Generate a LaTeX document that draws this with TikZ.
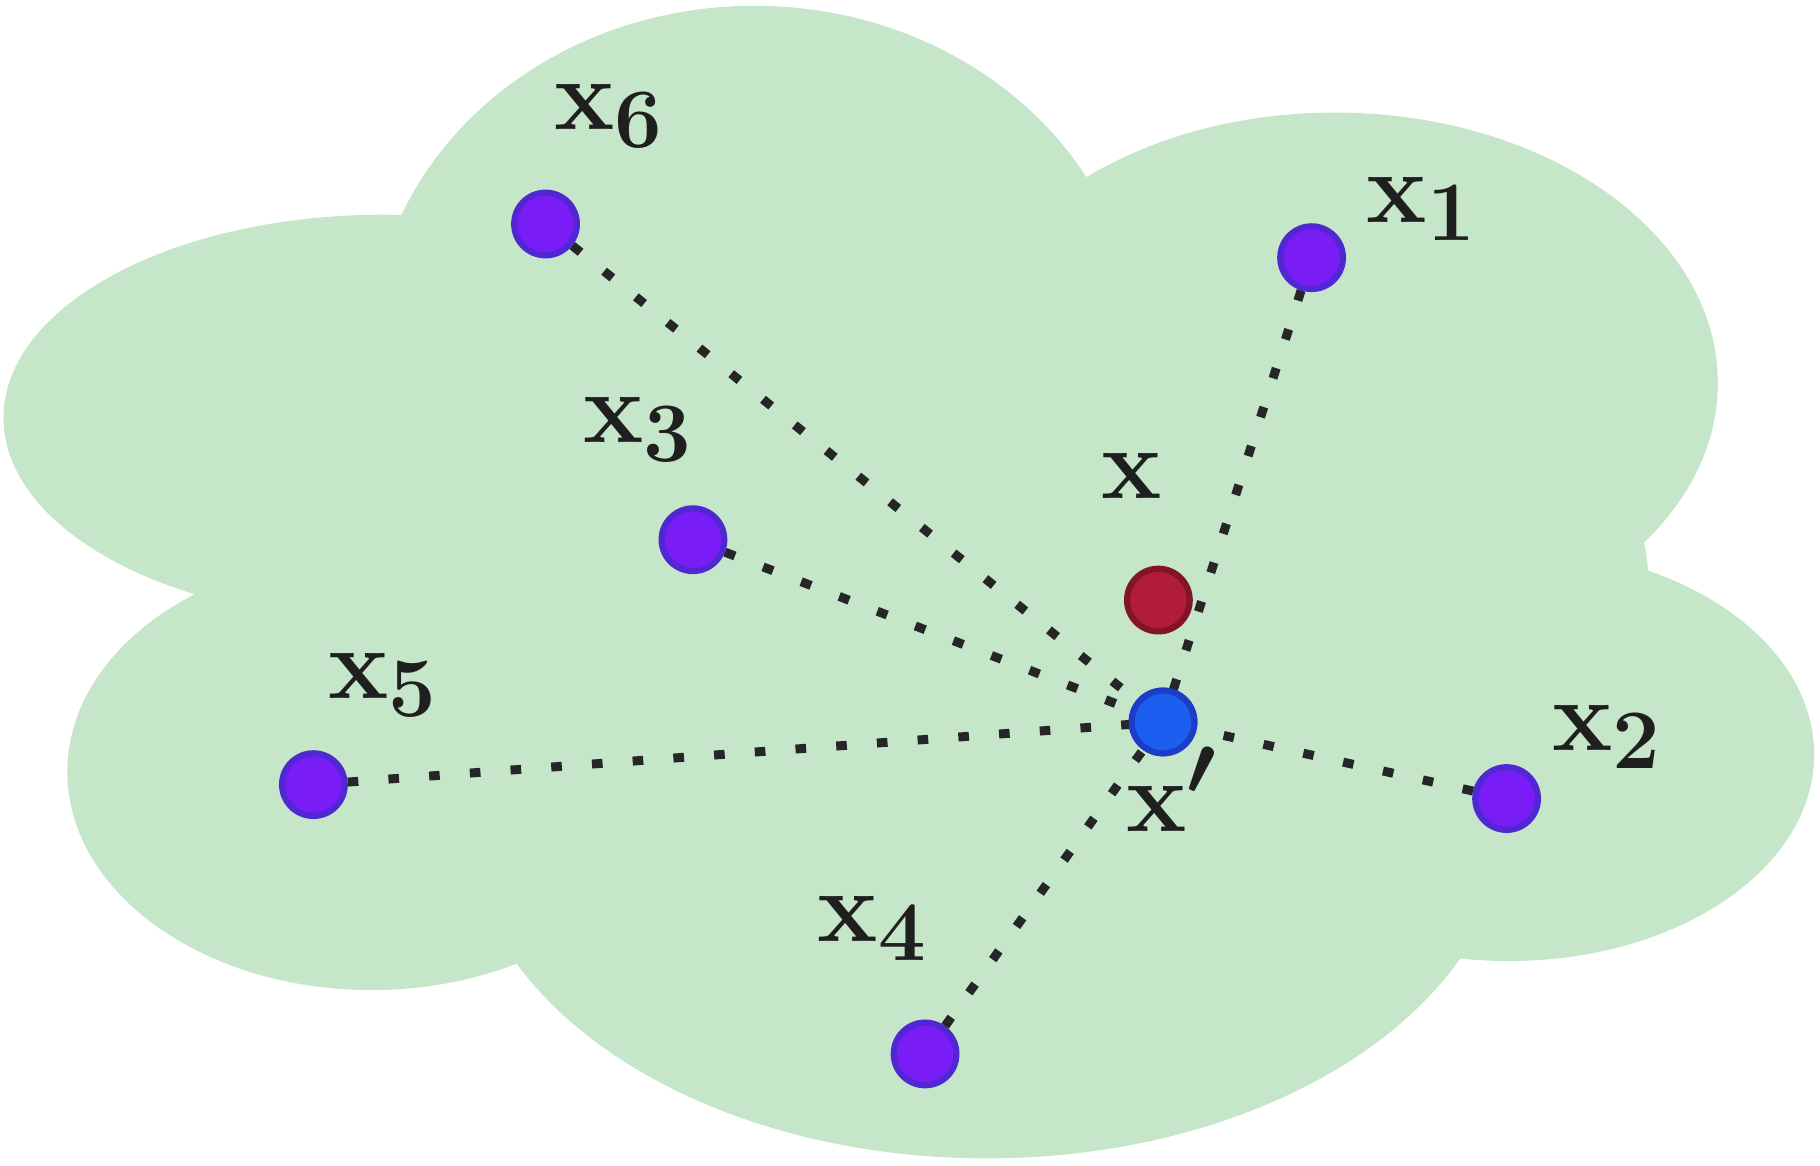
\documentclass[tikz,border=0pt]{standalone}
\usepackage{amsmath}
\begin{document}
\begin{tikzpicture}[x=0.01cm, y=-0.01cm]
  \tikzset{
    pt/.style={draw={rgb,255:red,80;green,40;blue,210}, line width=1.5pt, circle, fill={rgb,255:red,122;green,28;blue,245}, inner sep=0pt, minimum size=0.54cm},
    lbl/.style={font=\fontsize{31}{34}\selectfont\boldmath, text=black!88},
    link/.style={line width=2.2pt, black!85, dash pattern=on 2.6pt off 7.4pt}
  }
  \useasboundingbox (0,0) rectangle (1568,1004);

  % cloud
  \fill[fill={rgb,255:red,197;green,230;blue,200}]
    (650,300) ellipse [x radius=330, y radius=295]
    (1150,330) ellipse [x radius=330, y radius=233]
    (330,360) ellipse [x radius=327, y radius=175]
    (320,665) ellipse [x radius=262, y radius=188]
    (850,700) ellipse [x radius=450, y radius=298]
    (1300,650) ellipse [x radius=263, y radius=178]
    (1200,560) ellipse [x radius=240, y radius=150]
    (800,500) ellipse [x radius=620, y radius=300];

  % vertices
  \node[pt] (x6) at (470,193) {};
  \node[pt] (x1) at (1130,222) {};
  \node[pt] (x3) at (597,465) {};
  \node[pt] (x5) at (270,676) {};
  \node[pt] (x2) at (1298,688) {};
  \node[pt] (x4) at (797,908) {};
  \node[pt, draw={rgb,255:red,130;green,20;blue,40}, fill={rgb,255:red,176;green,28;blue,58}] (x) at (998,517) {};
  \node[pt, draw={rgb,255:red,30;green,60;blue,200}, fill={rgb,255:red,26;green,95;blue,240}] (xp) at (1002,622) {};

  % arcs
  \foreach \p in {x6, x1, x3, x5, x2, x4}
    \draw[link] (\p) to (xp.center);

  \node[pt, draw={rgb,255:red,30;green,60;blue,200}, fill={rgb,255:red,26;green,95;blue,240}] at (xp) {};

  % names of vertices
  \node[lbl] at (525,100) {$\mathbf{x}_6$};
  \node[lbl] at (1225,180) {$\mathbf{x}_1$};
  \node[lbl] at (550,370) {$\mathbf{x}_3$};
  \node[lbl] at (975,410) {$\mathbf{x}$};
  \node[lbl] at (1010,680) {$\mathbf{x}'$};
  \node[lbl] at (330,590) {$\mathbf{x}_5$};
  \node[lbl] at (1385,635) {$\mathbf{x}_2$};
  \node[lbl] at (752,800) {$\mathbf{x}_4$};
\end{tikzpicture}
\end{document}
